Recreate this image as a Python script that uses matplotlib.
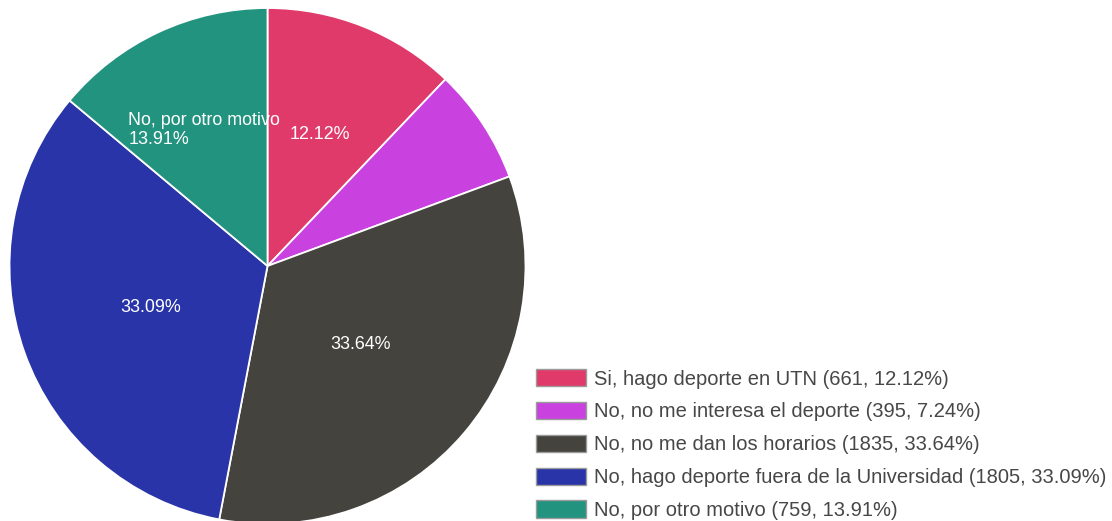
import numpy as np
import matplotlib
matplotlib.use("Agg")
import matplotlib.pyplot as plt
from matplotlib.patches import Patch

plt.rcParams["font.family"] = ["Liberation Sans", "DejaVu Sans"]

# data
categories = [
    "Si, hago deporte en UTN",
    "No, no me interesa el deporte",
    "No, no me dan los horarios",
    "No, hago deporte fuera de la Universidad",
    "No, por otro motivo",
]
counts = [661, 395, 1835, 1805, 759]
percents = [12.12, 7.24, 33.64, 33.09, 13.91]
colors = ["#e03a6b", "#c942e0", "#45433e", "#2934a8", "#22937e"]

W, H = 1112, 521
fig = plt.figure(figsize=(W / 100, H / 100), dpi=100)

# pie axes: centre (267, 266) px, radius 258 px
cx, cy, r = 267.5, 266, 258
ax = fig.add_axes([(cx - r) / W, (H - cy - r) / H, 2 * r / W, 2 * r / H])
wedges, _ = ax.pie(
    counts,
    colors=colors,
    startangle=90,
    counterclock=False,
    radius=1,
    wedgeprops=dict(edgecolor="white", linewidth=1.3),
)
ax.set_xlim(-1, 1)
ax.set_ylim(-1, 1)
ax.set_aspect("equal")
ax.axis("off")

# slice labels (small slice is left unlabeled)
label_texts = [
    f"{percents[0]:.2f}%",
    None,
    f"{percents[2]:.2f}%",
    f"{percents[3]:.2f}%",
    f"{categories[4]}\n{percents[4]:.2f}%",
]
label_dist = [0.55, None, 0.47, 0.48, 0.58]
for w, txt, d in zip(wedges, label_texts, label_dist):
    if txt is None:
        continue
    mid = np.deg2rad((w.theta1 + w.theta2) / 2)
    ax.text(d * np.cos(mid), d * np.sin(mid), txt, color="white",
            fontsize=12.9, ha="center", va="center", multialignment="left",
            linespacing=1.15)

# legend
handles = [Patch(facecolor=c, edgecolor="#9a9a9a", linewidth=1) for c in colors]
labels = [f"{c} ({n}, {p:.2f}%)" for c, n, p in zip(categories, counts, percents)]
fig.legend(
    handles, labels,
    loc="upper left",
    bbox_to_anchor=(536 / W, 1 - 369 / H),
    frameon=False,
    fontsize=14.5,
    handlelength=2.46,
    handleheight=0.94,
    handletextpad=0.44,
    labelspacing=0.66,
    borderpad=0,
    borderaxespad=0,
    labelcolor="#474747",
)

fig.savefig("out.png", dpi=100)
